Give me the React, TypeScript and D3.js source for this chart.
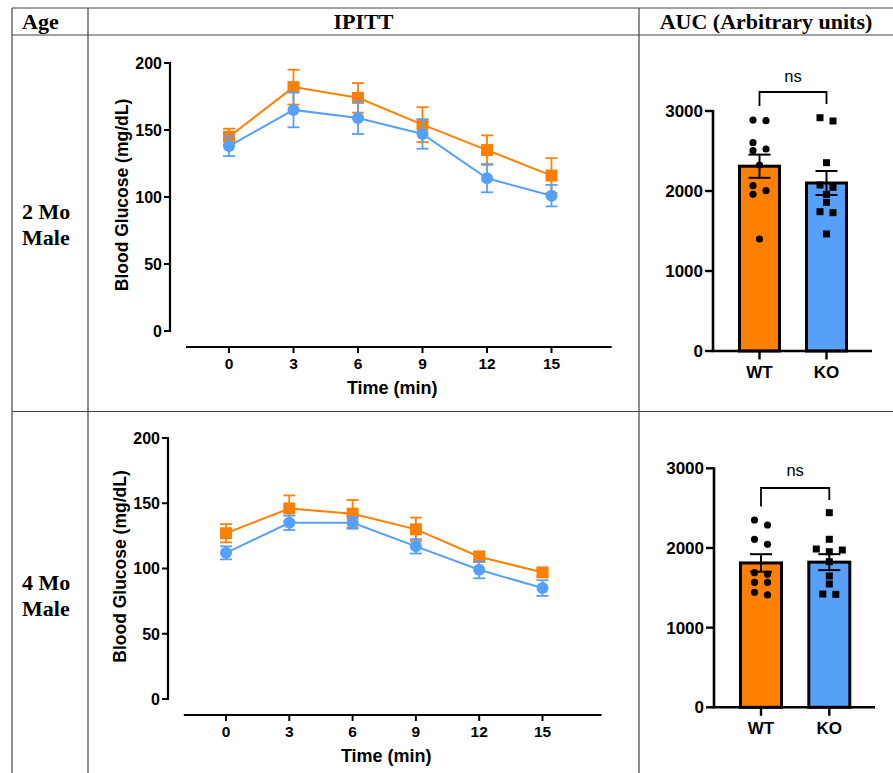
import React from "react";
import * as d3 from "d3";

// ---------- data ----------
const HEADERS = ["Age", "IPITT", "AUC (Arbitrary units)"];
const ROW_LABELS = [["2 Mo", "Male"], ["4 Mo", "Male"]];
const TIMES = [0, 3, 6, 9, 12, 15];
const GLUCOSE_TICKS = [0, 50, 100, 150, 200];
const AUC_TICKS = [0, 1000, 2000, 3000];
const GROUPS = ["WT", "KO"];
const SIG_LABEL = "ns";
const X_TITLE = "Time (min)";
const Y_TITLE = "Blood Glucose (mg/dL)";

const GLU_2MO_WT = [145, 182, 174, 154, 135, 116];
const GLU_2MO_WT_SEM = [6, 13, 11, 13, 11, 13];
const GLU_2MO_KO = [138, 165, 159, 147, 114, 101];
const GLU_2MO_KO_SEM = [7.5, 13, 12, 11, 10.5, 8];

const GLU_4MO_WT = [127, 146, 142, 130, 109, 97];
const GLU_4MO_WT_SEM = [7, 10, 10.5, 9, 4, 3];
const GLU_4MO_KO = [112, 135, 135, 117, 99, 85];
const GLU_4MO_KO_SEM = [5, 5.5, 4.5, 5.5, 6.5, 6];

const AUC_2MO_WT = [2887, 2879, 2604, 2525, 2504, 2325, 2066, 2004, 1958, 1400];
const AUC_2MO_KO = [2916, 2875, 2354, 2075, 2046, 1958, 1858, 1741, 1729, 1463];
const AUC_2MO_MEAN = [2310, 2100];
const AUC_2MO_SEM = [145, 150];

const AUC_4MO_WT = [2351, 2288, 2109, 2046, 1690, 1669, 1569, 1569, 1444, 1410];
const AUC_4MO_KO = [2443, 2109, 1987, 1974, 1953, 1828, 1648, 1548, 1422, 1418];
const AUC_4MO_MEAN = [1812, 1822];
const AUC_4MO_SEM = [110, 100];

// ---------- styles ----------
const ORANGE = "#FF8000";
const BLUE = "#57A0F9";
const SANS = "'Liberation Sans', Arial, Helvetica, sans-serif";
const SERIF = "'Liberation Serif', 'Times New Roman', serif";
const GRID = "#444";

const LINE_TOP = { x0: 229, x15: 551.5, xAxisY: 347, yAxisX: 170, yTop: 63, yBottom: 331, yLabelX: 128 };
const LINE_BOT = { x0: 226, x15: 542.5, xAxisY: 715, yAxisX: 168, yTop: 438, yBottom: 699, yLabelX: 126 };

const BAR_TOP = { yAxisX: 713, xAxisEnd: 872, yBottom: 351, yTop: 111, c1: 759.5, c2: 826.5, barW: 40, bracketY: 92, legWT: 106, legKO: 104, nsY: 82 };
const BAR_BOT = { yAxisX: 714, xAxisEnd: 875, yBottom: 707.3, yTop: 468.3, c1: 761, c2: 829.3, barW: 41, bracketY: 488, legWT: 506.5, legKO: 500, nsY: 476 };

function swarmOffsets(values: number[], y: (v: number) => number, h: number, D: number): number[] {
  const n = values.length;
  const ys = values.map(y);
  const off = new Array(n).fill(0);
  const placed: number[] = [];
  const order = d3.range(n).sort((a, b) => values[b] - values[a]);
  const hits = (x: number, yy: number, skip: Set<number>) =>
    placed.some((j) => !skip.has(j) && Math.hypot(off[j] - x, ys[j] - yy) < D);
  for (const i of order) {
    if (!hits(0, ys[i], new Set())) {
      off[i] = 0;
      placed.push(i);
      continue;
    }
    const row = placed.filter((j) => Math.abs(ys[j] - ys[i]) < D).sort((a, b) => off[a] - off[b]);
    const k = Math.floor((row.length + 1) / 2);
    const seq = [...row.slice(0, k), i, ...row.slice(k)];
    const newOff = seq.map((_, m) => (m - (seq.length - 1) / 2) * 2 * h);
    const skip = new Set(row);
    const ok = seq.every((j, m) => !hits(newOff[m], ys[j], skip));
    if (ok) {
      seq.forEach((j, m) => (off[j] = newOff[m]));
      placed.push(i);
      continue;
    }
    for (const c of [-h, h, -2 * h, 2 * h, -3 * h, 3 * h]) {
      if (!hits(c, ys[i], new Set())) {
        off[i] = c;
        break;
      }
    }
    placed.push(i);
  }
  return off;
}

function LineChart({ L, wt, wtSem, ko, koSem }: any) {
  const x = d3.scaleLinear().domain([0, 15]).range([L.x0, L.x15]);
  const y = d3.scaleLinear().domain([0, 200]).range([L.yBottom, L.yTop]);
  const line = d3
    .line<number>()
    .x((_, i) => x(TIMES[i]))
    .y((d) => y(d));
  const series = [
    { vals: wt, sem: wtSem, color: ORANGE, shape: "square" },
    { vals: ko, sem: koSem, color: BLUE, shape: "circle" },
  ];
  const cap = 6;
  return (
    <g>
      <line x1={L.yAxisX} x2={L.yAxisX} y1={y(0) + 1} y2={y(200) - 1} stroke="#000" strokeWidth={2.2} />
      {GLUCOSE_TICKS.map((t) => (
        <g key={t}>
          <line x1={L.yAxisX - 6} x2={L.yAxisX} y1={y(t)} y2={y(t)} stroke="#000" strokeWidth={2} />
          <text x={L.yAxisX - 8} y={y(t)} dy="0.36em" textAnchor="end" fontFamily={SANS} fontWeight="bold" fontSize={16}>
            {t}
          </text>
        </g>
      ))}
      <text
        transform={`translate(${L.yLabelX},${(y(0) + y(200)) / 2 - 2}) rotate(-90)`}
        textAnchor="middle"
        fontFamily={SANS}
        fontWeight="bold"
        fontSize={17.5}
      >
        {Y_TITLE}
      </text>
      <line x1={x(-2)} x2={x(17.8)} y1={L.xAxisY} y2={L.xAxisY} stroke="#000" strokeWidth={2.2} />
      {TIMES.map((t) => (
        <g key={t}>
          <line x1={x(t)} x2={x(t)} y1={L.xAxisY} y2={L.xAxisY + 6} stroke="#000" strokeWidth={2} />
          <text x={x(t)} y={L.xAxisY + 22} textAnchor="middle" fontFamily={SANS} fontWeight="bold" fontSize={15.5}>
            {t}
          </text>
        </g>
      ))}
      <text x={(x(0) + x(15)) / 2 + 2} y={L.xAxisY + 47} textAnchor="middle" fontFamily={SANS} fontWeight="bold" fontSize={18}>
        {X_TITLE}
      </text>
      {series.map((s, si) => (
        <g key={si}>
          <path d={line(s.vals) || ""} fill="none" stroke={s.color} strokeWidth={2} />
          {s.vals.map((v: number, i: number) => {
            const cx = x(TIMES[i]);
            const y1 = y(v + s.sem[i]);
            const y2 = y(v - s.sem[i]);
            return (
              <g key={i} stroke={s.color} strokeWidth={1.8}>
                <line x1={cx} x2={cx} y1={y1} y2={y2} />
                <line x1={cx - cap} x2={cx + cap} y1={y1} y2={y1} />
                <line x1={cx - cap} x2={cx + cap} y1={y2} y2={y2} />
              </g>
            );
          })}
          {s.vals.map((v: number, i: number) =>
            s.shape === "square" ? (
              <rect key={"m" + i} x={x(TIMES[i]) - 6} y={y(v) - 6} width={12} height={12} fill={s.color} />
            ) : (
              <circle key={"m" + i} cx={x(TIMES[i])} cy={y(v)} r={6} fill={s.color} />
            )
          )}
        </g>
      ))}
    </g>
  );
}

function BarChart({ B, wtPts, koPts, means, sems }: any) {
  const y = d3.scaleLinear().domain([0, 3000]).range([B.yBottom, B.yTop]);
  const xp = d3.scalePoint<string>().domain(GROUPS).range([B.c1, B.c2]);
  const colors = [ORANGE, BLUE];
  const pts = [wtPts, koPts];
  const cap = 11;
  return (
    <g>
      {GROUPS.map((g, gi) => {
        const cx = xp(g) as number;
        return (
          <rect
            key={g}
            x={cx - B.barW / 2}
            y={y(means[gi])}
            width={B.barW}
            height={y(0) - y(means[gi])}
            fill={colors[gi]}
            stroke="#000"
            strokeWidth={3}
          />
        );
      })}
      {GROUPS.map((g, gi) => {
        const cx = xp(g) as number;
        const off = swarmOffsets(pts[gi], (v) => y(v), 6.5, 7.8);
        return (
          <g key={"p" + g}>
            {pts[gi].map((v: number, i: number) =>
              gi === 0 ? (
                <circle key={i} cx={cx + off[i]} cy={y(v)} r={3.6} fill="#000" />
              ) : (
                <rect key={i} x={cx + off[i] - 3.5} y={y(v) - 3.5} width={7} height={7} fill="#000" />
              )
            )}
          </g>
        );
      })}
      {GROUPS.map((g, gi) => {
        const cx = xp(g) as number;
        const y1 = y(means[gi] + sems[gi]);
        const y2 = y(means[gi] - sems[gi]);
        return (
          <g key={"e" + g} stroke="#000" strokeWidth={2}>
            <line x1={cx} x2={cx} y1={y1} y2={y2} />
            <line x1={cx - cap} x2={cx + cap} y1={y1} y2={y1} />
            <line x1={cx - cap} x2={cx + cap} y1={y2} y2={y2} />
          </g>
        );
      })}
      <line x1={B.yAxisX} x2={B.yAxisX} y1={y(0)} y2={y(3000) - 1} stroke="#000" strokeWidth={2.6} />
      <line x1={B.yAxisX - 1.3} x2={B.xAxisEnd} y1={y(0)} y2={y(0)} stroke="#000" strokeWidth={2.6} />
      {AUC_TICKS.map((t) => (
        <g key={t}>
          <line x1={B.yAxisX - 8} x2={B.yAxisX} y1={y(t)} y2={y(t)} stroke="#000" strokeWidth={2.4} />
          <text x={B.yAxisX - 10} y={y(t)} dy="0.36em" textAnchor="end" fontFamily={SANS} fontWeight="bold" fontSize={17}>
            {t}
          </text>
        </g>
      ))}
      {GROUPS.map((g) => {
        const cx = xp(g) as number;
        return (
          <g key={"t" + g}>
            <line x1={cx} x2={cx} y1={y(0)} y2={y(0) + 8.5} stroke="#000" strokeWidth={2.4} />
            <text x={cx} y={y(0) + 27} textAnchor="middle" fontFamily={SANS} fontWeight="bold" fontSize={17}>
              {g}
            </text>
          </g>
        );
      })}
      <path
        d={`M${xp("WT")},${B.legWT}V${B.bracketY}H${xp("KO")}V${B.legKO}`}
        fill="none"
        stroke="#000"
        strokeWidth={1.8}
      />
      <text x={((xp("WT") as number) + (xp("KO") as number)) / 2} y={B.nsY} textAnchor="middle" fontFamily={SANS} fontSize={16.5}>
        {SIG_LABEL}
      </text>
    </g>
  );
}

export default function App() {
  const colX = [12, 88, 639];
  const headerCenters = [22, 363.5, 766];
  return (
    <svg
      width={893}
      height={773}
      viewBox="0 0 893 773"
      style={{ position: "absolute", left: 0, top: 0, background: "#fff" }}
    >
      <rect x={0} y={0} width={893} height={773} fill="#fff" />
      <g stroke={GRID} strokeWidth={1.2}>
        <line x1={12} x2={893} y1={8} y2={8} />
        <line x1={12} x2={893} y1={35} y2={35} />
        <line x1={12} x2={893} y1={411.5} y2={411.5} />
        {colX.map((cx) => (
          <line key={cx} x1={cx} x2={cx} y1={8} y2={773} />
        ))}
      </g>
      {HEADERS.map((h, i) => (
        <text
          key={h}
          x={headerCenters[i]}
          y={29}
          textAnchor={i === 0 ? "start" : "middle"}
          fontFamily={SERIF}
          fontWeight="bold"
          fontSize={22}
        >
          {h}
        </text>
      ))}
      {ROW_LABELS.map((lines, r) => (
        <text key={r} fontFamily={SERIF} fontWeight="bold" fontSize={22}>
          {lines.map((t, k) => (
            <tspan key={k} x={22} y={(r === 0 ? 219 : 590) + k * 26}>
              {t}
            </tspan>
          ))}
        </text>
      ))}
      <LineChart L={LINE_TOP} wt={GLU_2MO_WT} wtSem={GLU_2MO_WT_SEM} ko={GLU_2MO_KO} koSem={GLU_2MO_KO_SEM} />
      <LineChart L={LINE_BOT} wt={GLU_4MO_WT} wtSem={GLU_4MO_WT_SEM} ko={GLU_4MO_KO} koSem={GLU_4MO_KO_SEM} />
      <BarChart B={BAR_TOP} wtPts={AUC_2MO_WT} koPts={AUC_2MO_KO} means={AUC_2MO_MEAN} sems={AUC_2MO_SEM} />
      <BarChart B={BAR_BOT} wtPts={AUC_4MO_WT} koPts={AUC_4MO_KO} means={AUC_4MO_MEAN} sems={AUC_4MO_SEM} />
    </svg>
  );
}
